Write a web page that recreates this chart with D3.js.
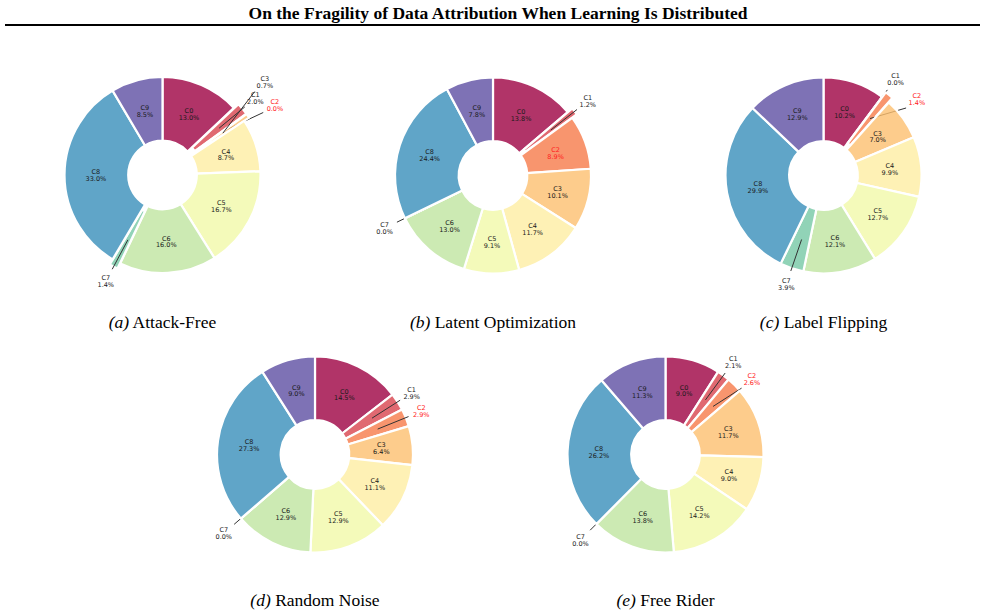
<!DOCTYPE html>
<html>
<head>
<meta charset="utf-8">
<script src="https://cdn.jsdelivr.net/npm/d3@7"></script>
<style>
  body { margin: 0; background: #fff; }
  svg { display: block; }
</style>
</head>
<body>
<div id="chart"></div>
<script>
// client shares of attribution, in %
const categories = ["C0", "C1", "C2", "C3", "C4", "C5", "C6", "C7", "C8", "C9"];
const attackFree = [13.0, 2.0, 0.0, 0.7, 8.7, 16.7, 16.0, 1.4, 33.0, 8.5];
const latentOptimization = [13.8, 1.2, 8.9, 10.1, 11.7, 9.1, 13.0, 0.0, 24.4, 7.8];
const labelFlipping = [10.2, 0.0, 1.4, 7.0, 9.9, 12.7, 12.1, 3.9, 29.9, 12.9];
const randomNoise = [14.5, 2.9, 2.9, 6.4, 11.1, 12.9, 12.9, 0.0, 27.3, 9.0];
const freeRider = [9.0, 2.1, 2.6, 11.7, 9.0, 14.2, 13.8, 0.0, 26.2, 11.3];
const panelTags = ["(a)", "(b)", "(c)", "(d)", "(e)"];
const panelNames = ["Attack-Free", "Latent Optimization", "Label Flipping", "Random Noise", "Free Rider"];
const attacker = "C2";

const W = 985, H = 615, R = 98;
const serif = "'Liberation Serif', 'Times New Roman', serif";
const panels = [
    {values: attackFree, cx: 162.5, cy: 175, capY: 328},
    {values: latentOptimization, cx: 493, cy: 175.5, capY: 328},
    {values: labelFlipping, cx: 823.5, cy: 175.5, capY: 328},
    {values: randomNoise, cx: 315, cy: 454.5, capY: 606},
    {values: freeRider, cx: 665.5, cy: 454.5, capY: 606}
];
// outside labels that were moved to avoid overlapping (angle in degrees, radius factor)
const labelMoves = {
    0: {C2: {a: 58.4, r: 1.29}, C3: {a: 47.5, r: 1.35}},
    2: {C2: {a: 51.4, r: 1.17}},
    4: {C2: {a: 48.9, r: 1.17}}
};

// Spectral colormap sampled linearly between its 11 stops
const spectral = d3.scaleLinear()
    .domain(d3.range(11).map(i => i / 10))
    .range(d3.schemeSpectral[11]);
const color = d3.scaleOrdinal()
    .domain(categories)
    .range(categories.map((d, i) => spectral(i / (categories.length - 1))));

const svg = d3.select("#chart").append("svg")
    .attr("width", W).attr("height", H)
    .style("font-family", "'DejaVu Sans', sans-serif");

svg.append("text")
    .attr("x", 498).attr("y", 19)
    .attr("text-anchor", "middle")
    .style("font-family", serif)
    .style("font-weight", "bold")
    .style("font-size", "17.5px")
    .text("On the Fragility of Data Attribution When Learning Is Distributed");
svg.append("line")
    .attr("x1", 5).attr("x2", 980)
    .attr("y1", 25).attr("y2", 25)
    .attr("stroke", "#000").attr("stroke-width", 2);

const pie = d3.pie().sort(null).value(d => d.value);
const arc = d3.arc().innerRadius(R * 0.35).outerRadius(R);

function polar(angle, r) {
    return [Math.sin(angle) * r, -Math.cos(angle) * r];
}

panels.forEach((p, k) => {
    const data = categories.map((c, i) => ({name: c, value: p.values[i]}));
    const arcs = pie(data);
    const g = svg.append("g").attr("transform", `translate(${p.cx},${p.cy})`);
    const moves = labelMoves[k] || {};

    arcs.forEach(a => {
        const mid = (a.startAngle + a.endAngle) / 2;
        const small = a.data.value < 5;
        const shift = a.data.value < 2.05 ? R * 0.06 : 0;
        const [ox, oy] = polar(mid, shift);
        const wg = g.append("g").attr("transform", `translate(${ox},${oy})`);

        wg.append("path")
            .attr("d", arc(a))
            .attr("fill", color(a.data.name))
            .attr("fill-opacity", 0.8)
            .attr("stroke", "#fff")
            .attr("stroke-width", 2.2)
            .attr("stroke-linejoin", "round");

        let lx, ly;
        if (!small) {
            [lx, ly] = polar(mid, R * 0.68);
        } else {
            const mv = moves[a.data.name];
            const ang = mv ? mv.a * Math.PI / 180 : mid;
            const rr = mv ? mv.r : 1.17;
            [lx, ly] = polar(ang, R * rr);
            const [x1, y1] = polar(mid, R * 0.69);
            const [x2, y2] = polar(ang, R * (rr - 0.14));
            wg.append("line")
                .attr("x1", x1).attr("y1", y1)
                .attr("x2", x2).attr("y2", y2)
                .attr("stroke", "#333").attr("stroke-width", 1);
        }
        const t = wg.append("text")
            .attr("text-anchor", "middle")
            .attr("fill", a.data.name === attacker ? "#ff2020" : "#1a1a1a")
            .style("font-size", "6.5px");
        t.append("tspan").attr("x", lx).attr("y", ly - 1).text(a.data.name);
        t.append("tspan").attr("x", lx).attr("y", ly + 5.8).text(a.data.value.toFixed(1) + "%");
    });

    const cap = svg.append("text")
        .attr("x", p.cx).attr("y", p.capY)
        .attr("text-anchor", "middle")
        .style("font-family", serif)
        .style("font-size", "17.5px");
    cap.append("tspan").style("font-family", serif).style("font-style", "italic").text(panelTags[k]);
    cap.append("tspan").style("font-family", serif).text(" " + panelNames[k]);
});
</script>
</body>
</html>
